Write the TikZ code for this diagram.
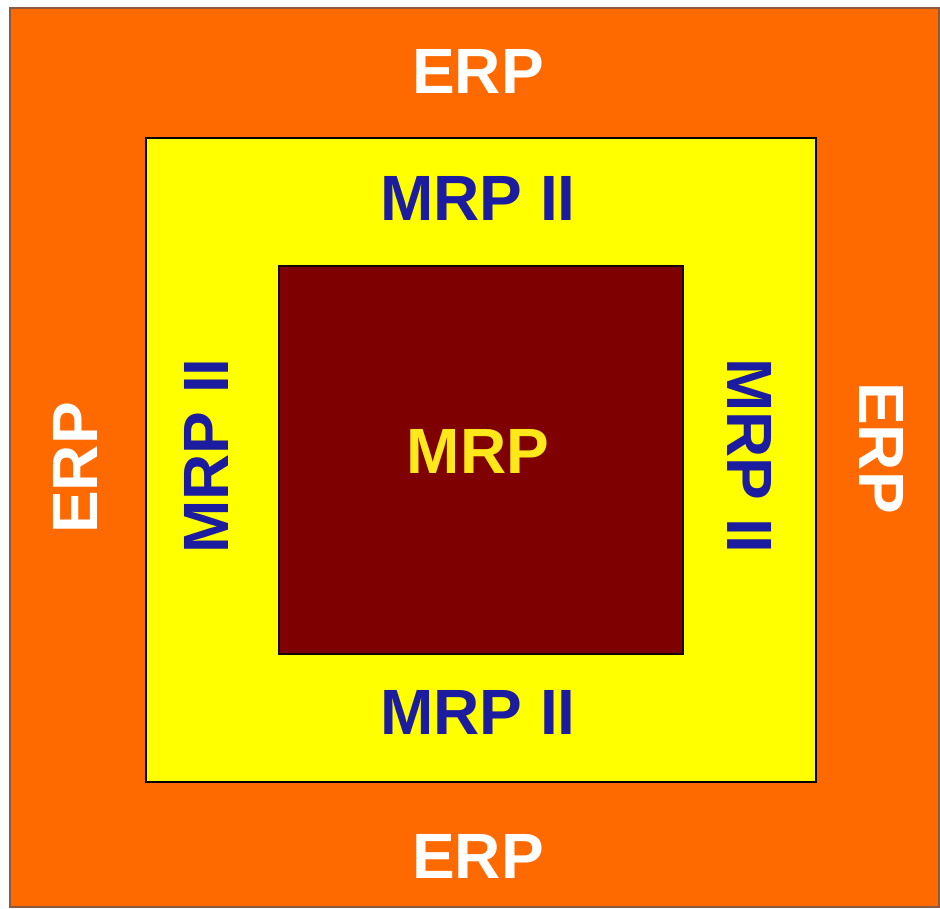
\documentclass[tikz,border=0pt]{standalone}
\usepackage{fontspec}
\setmainfont{Liberation Sans}
\definecolor{erporange}{HTML}{FF6A00}
\definecolor{mrpyellow}{HTML}{FFFF00}
\definecolor{mrpred}{HTML}{7F0000}
\definecolor{txtblue}{HTML}{1C1CA0}
\definecolor{txtyellow}{HTML}{FFE81A}
\definecolor{framebrown}{HTML}{8A5A40}
\begin{document}
\begin{tikzpicture}[x=1pt,y=-1pt,
  lbl/.style={font=\fontsize{64}{64}\selectfont\bfseries, inner sep=0pt},
  erp/.style={lbl, text=white},
  mrptwo/.style={lbl, text=txtblue},
  mrpone/.style={lbl, text=txtyellow}]
\useasboundingbox (0,0) rectangle (940,908);
\fill[white] (0,0) rectangle (940,908);
\node[draw=framebrown, line width=2.5pt, fill=erporange, minimum width=929pt, minimum height=899pt, inner sep=0pt, anchor=north west] (outer) at (8.5,6.5) {};
\node[draw=black, line width=2pt, fill=mrpyellow, minimum width=670pt, minimum height=644pt, inner sep=0pt, anchor=north west] (mid) at (145,137) {};
\node[draw=black!80!mrpred, line width=2pt, fill=mrpred, minimum width=404pt, minimum height=388pt, inner sep=0pt, anchor=north west] (core) at (278,265) {};
\node[erp] (erpT) at (478,71) {ERP};
\node[erp] (erpB) at (478,856) {ERP};
\node[erp, rotate=90] (erpL) at (75,468) {ERP};
\node[erp, rotate=-90] (erpR) at (882,448) {ERP};
\node[mrptwo] (m2T) at (478,198) {MRP II};
\node[mrptwo] (m2B) at (478,712) {MRP II};
\node[mrptwo, rotate=90] (m2L) at (206,456) {MRP II};
\node[mrptwo, rotate=-90] (m2R) at (750,456) {MRP II};
\node[mrpone] (m1) at (478,451) {MRP};
\end{tikzpicture}
\end{document}
